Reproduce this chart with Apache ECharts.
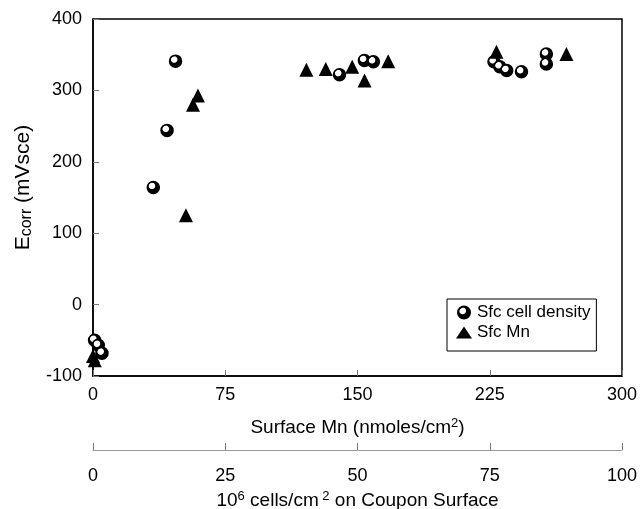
<!DOCTYPE html>
<html>
<head>
<meta charset="utf-8">
<script src="https://cdn.jsdelivr.net/npm/echarts@6/dist/echarts.min.js"></script>
<style>
html, body { margin: 0; padding: 0; background: #fff; }
#chart { width: 640px; height: 509px; }
</style>
</head>
<body>
<div id="chart"></div>
<script>
// Sfc cell density: x in 10^6 cells/cm2, y in mVsce
var cellX = [0.3, 1.0, 1.7, 11.4, 14.0, 15.6, 46.6, 51.3, 53.0, 75.8, 76.9, 78.2, 81.0, 85.7, 85.7];
var cellY = [-50, -57, -68, 164, 244, 341, 322, 342, 340, 340, 333, 328, 326, 351, 337];
// Sfc Mn: x in nmoles/cm2, y in mVsce
var mnX = [0, 1, 52.7, 56.7, 59.5, 121, 132, 147, 154, 167.4, 228.8, 268.5];
var mnY = [-72, -78, 125, 280, 293, 329, 330, 333, 314, 341, 354, 351];
var mnTicks = [0, 75, 150, 225, 300];
var cellTicks = [0, 25, 50, 75, 100];
var yTicks = [-100, 0, 100, 200, 300, 400];

var font = 'Liberation Sans, Arial, sans-serif';

var cellData = [];
for (var i = 0; i < cellX.length; i++) {
	cellData.push([cellX[i], cellY[i]]);
}
var mnData = [];
for (var j = 0; j < mnX.length; j++) {
	mnData.push([mnX[j], mnY[j]]);
}

var sphere = new echarts.graphic.RadialGradient(0.4, 0.38, 0.5, [
	{ offset: 0, color: '#fff' },
	{ offset: 0.42, color: '#fff' },
	{ offset: 0.55, color: '#000' },
	{ offset: 1, color: '#000' }
]);

var titleRich = {
	n: { fontFamily: font, fontSize: 19, color: '#000', lineHeight: 22 },
	s: { fontFamily: font, fontSize: 13, color: '#000', lineHeight: 13, verticalAlign: 'top' }
};

var chart = echarts.init(document.getElementById('chart'));
var option = {
	animation: false,
	backgroundColor: '#fff',
	grid: {
		left: 93,
		right: 18,
		top: 19,
		bottom: 133,
		outerBoundsMode: 'none',
		containLabel: false,
		show: true,
		borderColor: '#000',
		borderWidth: 1.5
	},
	legend: {
		orient: 'vertical',
		left: 447,
		top: 299,
		borderColor: '#000',
		borderWidth: 1,
		borderRadius: 0,
		padding: [5, 6, 10, 9],
		itemGap: 3,
		itemWidth: 16,
		itemHeight: 12,
		textStyle: { fontFamily: font, fontSize: 17, color: '#000' },
		data: [
			{ name: 'Sfc cell density', icon: 'circle' },
			{ name: 'Sfc Mn', icon: 'triangle' }
		]
	},
	xAxis: [{
		type: 'value',
		min: mnTicks[0],
		max: mnTicks[mnTicks.length - 1],
		interval: 75,
		position: 'bottom',
		name: '{n|Surface Mn (nmoles/cm}{s|2}{n|)}',
		nameLocation: 'middle',
		nameGap: 41,
		nameTextStyle: { rich: titleRich },
		axisLine: { onZero: false, lineStyle: { color: '#000', width: 1.5 } },
		axisTick: { inside: true, length: 6, lineStyle: { color: '#777' } },
		axisLabel: { margin: 10, fontFamily: font, fontSize: 18, color: '#000' },
		splitLine: { show: false }
	}, {
		type: 'value',
		min: cellTicks[0],
		max: cellTicks[cellTicks.length - 1],
		interval: 25,
		position: 'bottom',
		offset: 74,
		name: '{n|10}{s|6}{n| cells/cm}{s| 2}{n| on Coupon Surface}',
		nameLocation: 'middle',
		nameGap: 37,
		nameTextStyle: { rich: titleRich },
		axisLine: { onZero: false, lineStyle: { color: '#999', width: 1 } },
		axisTick: { inside: true, length: 7, lineStyle: { color: '#777' } },
		axisLabel: { margin: 17, fontFamily: font, fontSize: 18, color: '#000' },
		splitLine: { show: false }
	}],
	yAxis: {
		type: 'value',
		min: yTicks[0],
		max: yTicks[yTicks.length - 1],
		interval: 100,
		name: '{n|E}{s|corr}{n| (mVsce)}',
		nameLocation: 'middle',
		nameGap: 58,
		nameTextStyle: {
			padding: [0, 0, 0, 20],
			rich: {
				n: { fontFamily: font, fontSize: 21, color: '#000', lineHeight: 24 },
				s: { fontFamily: font, fontSize: 16, color: '#000', lineHeight: 16, verticalAlign: 'bottom' }
			}
		},
		axisLine: { lineStyle: { color: '#000', width: 1.5 } },
		axisTick: { inside: true, length: 6, lineStyle: { color: '#777' } },
		axisLabel: { margin: 11, fontFamily: font, fontSize: 18, color: '#000' },
		splitLine: { show: false }
	},
	series: [{
		name: 'Sfc cell density',
		type: 'scatter',
		xAxisIndex: 1,
		symbol: 'circle',
		symbolSize: 12,
		itemStyle: { color: sphere, borderColor: '#000', borderWidth: 1.5, opacity: 1 },
		data: cellData
	}, {
		name: 'Sfc Mn',
		type: 'scatter',
		xAxisIndex: 0,
		symbol: 'triangle',
		symbolSize: 14,
		itemStyle: { color: '#000', opacity: 1 },
		data: mnData
	}]
};
chart.setOption(option);
window.onresize = chart.resize;
</script>
</body>
</html>
